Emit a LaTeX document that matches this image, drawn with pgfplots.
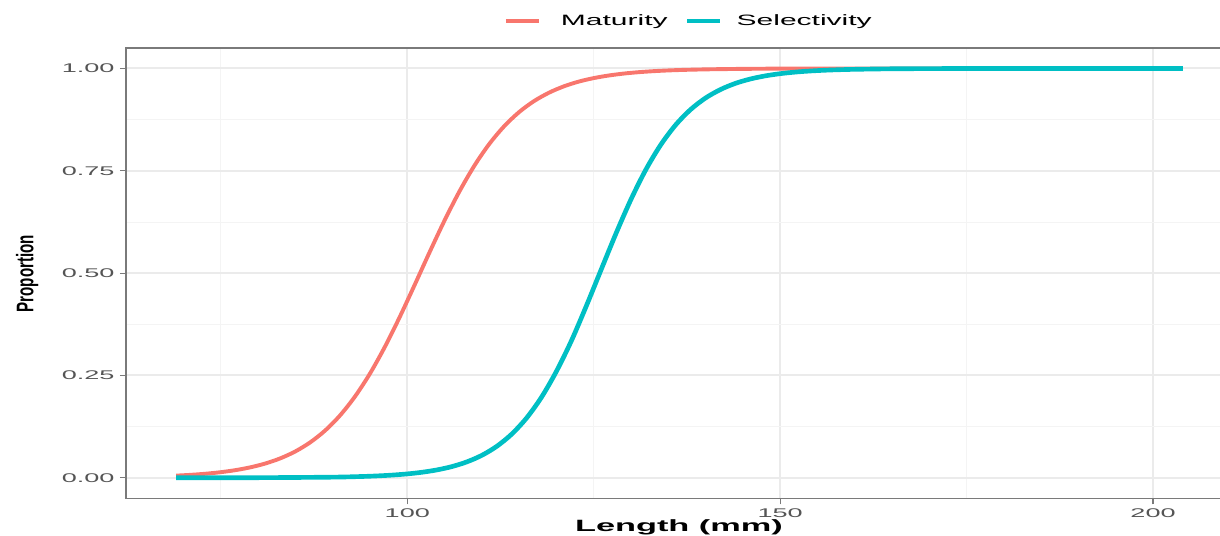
\documentclass[border=0pt]{standalone}
\usepackage{fontspec}
\usepackage{pgfplots}
\pgfplotsset{compat=1.18}
\setmainfont{Liberation Sans}
\newfontfamily\tickfont[FakeStretch=2.15]{Liberation Sans}
\newfontfamily\titlefont[FakeStretch=2.1]{Liberation Sans}
\newfontfamily\legfont[FakeStretch=2.0]{Liberation Sans}
\newfontfamily\ylabfont[FakeStretch=0.63]{Liberation Sans}

\definecolor{mat}{HTML}{F8766D}
\definecolor{sel}{HTML}{00BFC4}
\definecolor{gridmaj}{HTML}{EBEBEB}
\definecolor{gridmin}{HTML}{F4F4F4}
\definecolor{border}{HTML}{7A7A7A}
\definecolor{ticktext}{HTML}{555555}

\begin{document}
\begin{tikzpicture}
\begin{axis}[
    at={(0,0)}, anchor=south west,
    scale only axis,
    width=738.3pt, height=300.2pt,
    xmin=62.25, xmax=210.75,
    ymin=-0.05, ymax=1.05,
    xtick={100,150,200},
    minor xtick={75,125,175},
    ytick={0,0.25,0.5,0.75,1},
    minor ytick={0.125,0.375,0.625,0.875},
    yticklabel style={/pgf/number format/.cd, fixed, fixed zerofill, precision=2},
    /pgf/number format/assume math mode=true,
    ticklabel style={font=\tickfont\fontsize{8.4}{10}\selectfont, text=ticktext},
    xticklabel style={anchor=base, yshift=-9pt},
    grid=both,
    major grid style={gridmaj, line width=1.3pt},
    minor grid style={gridmin, line width=0.6pt},
    tick align=outside,
    xtick pos=left, ytick pos=left,
    major tick length=4pt,
    minor tick length=0pt,
    tick style={border, line width=0.8pt},
    axis line style={border, line width=0.9pt},
    xlabel={Length (mm)},
    xlabel style={at={(axis description cs:0.4995,-0.0742)}, anchor=base,
        font=\titlefont\bfseries\fontsize{10.9}{12}\selectfont},
    ylabel={Proportion},
    ylabel style={at={(axis description cs:-0.0892,0.499)}, anchor=center,
        font=\ylabfont\bfseries\fontsize{16}{18}\selectfont},
    legend columns=2,
    legend style={at={(axis description cs:0.5088,1.06)}, anchor=center,
        draw=none, fill=none,
        font=\legfont\fontsize{10}{12}\selectfont,
        /tikz/every odd column/.append style={column sep=11.5pt},
        /tikz/every even column/.append style={column sep=9.4pt}},
    legend image code/.code={\draw[#1] (0pt,0pt) -- (22pt,0pt);},
]
\addplot[mat, line width=2.6pt, smooth, line join=round] coordinates {
    (69,0.00531) (71,0.00730) (73,0.01003) (75,0.01376) (77,0.01885)
    (79,0.02578) (81,0.03516) (83,0.04778) (85,0.06464) (87,0.08691)
    (89,0.1159) (91,0.1529) (93,0.1991) (95,0.2550) (97,0.3204)
    (99,0.3936) (101,0.4720) (103,0.5518) (105,0.6290) (107,0.7001)
    (109,0.7628) (111,0.8158) (113,0.8591) (115,0.8936) (117,0.9204)
    (119,0.9409) (121,0.9564) (123,0.9680) (125,0.9765) (127,0.9828)
    (129,0.9875) (131,0.9909) (133,0.9934) (135,0.9952) (137,0.9965)
    (139,0.9974) (141,0.9981) (145,0.9990) (150,0.9996) (160,0.9999)
    (180,1.0000) (204,1.0000)
};
\addplot[sel, line width=3.1pt, smooth, line join=round] coordinates {
    (69,0.00004) (80,0.0003) (90,0.00159) (94,0.00326) (96,0.00466)
    (98,0.00667) (100,0.00953) (102,0.01360) (104,0.01938) (106,0.02755)
    (108,0.03902) (110,0.05499) (112,0.07699) (114,0.1068) (116,0.1463)
    (118,0.1971) (120,0.2604) (122,0.3347) (124,0.4197) (126,0.5090)
    (128,0.5977) (130,0.6805) (132,0.7533) (134,0.8140) (136,0.8625)
    (138,0.8999) (140,0.9280) (142,0.9486) (144,0.9636) (146,0.9743)
    (148,0.9819) (150,0.9873) (152,0.9911) (154,0.9938) (156,0.9957)
    (158,0.9970) (160,0.9979) (164,0.9990) (168,0.9995) (175,0.99986)
    (190,1.0000) (204,1.0000)
};
\legend{Maturity,{\kern-4pt Selectivity}}
\end{axis}
\pgfresetboundingbox
\path[use as bounding box] (-83.9pt,-25.1pt) rectangle (729.5pt,332.2pt);
\end{tikzpicture}
\end{document}
